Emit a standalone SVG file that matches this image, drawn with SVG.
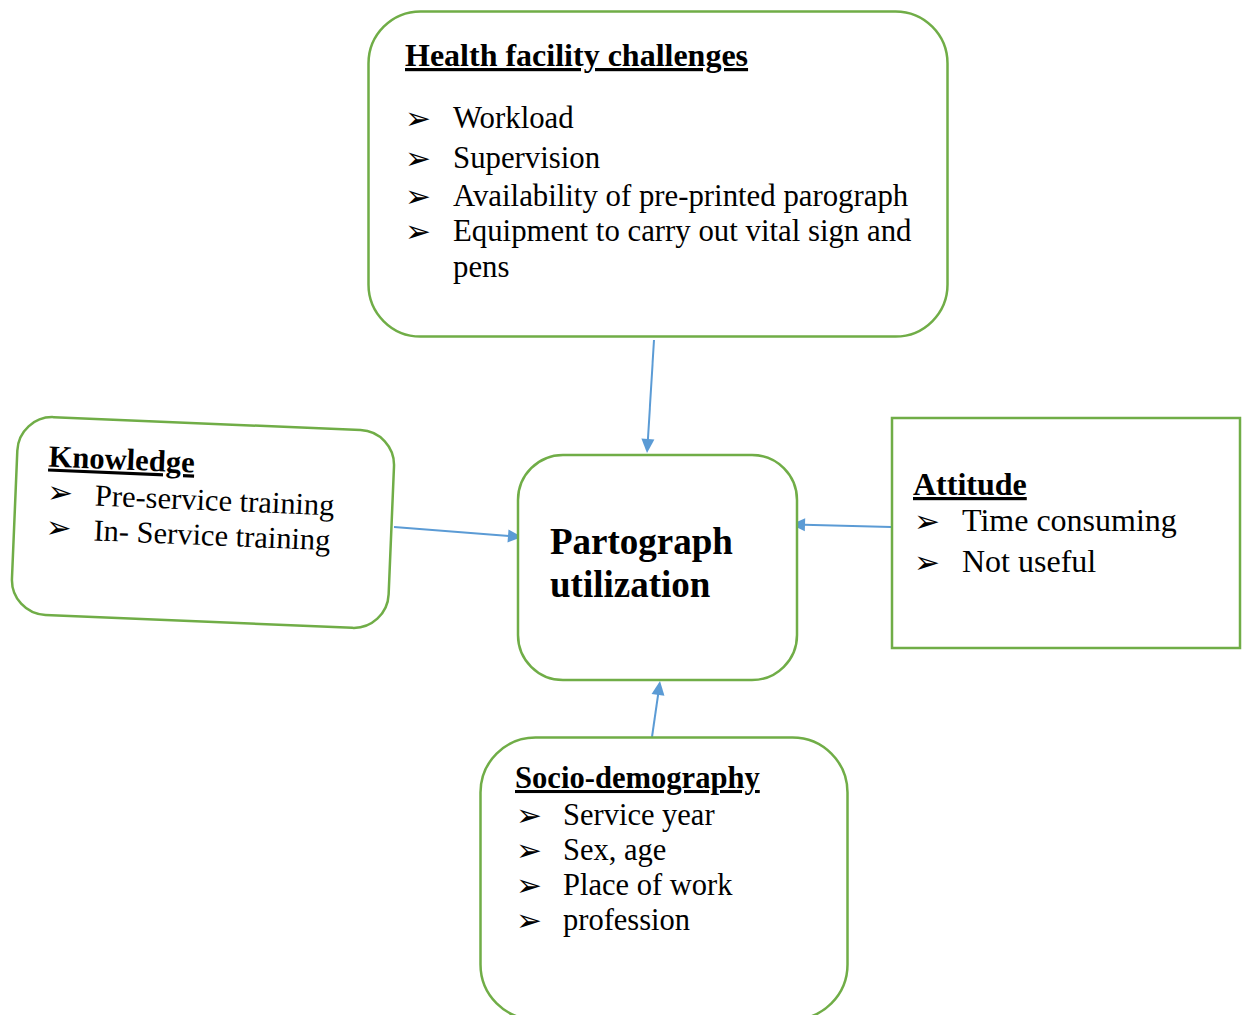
<svg xmlns="http://www.w3.org/2000/svg" width="1246" height="1015" viewBox="0 0 1246 1015">
<style>
.box{fill:#fff;stroke:#70AD47;stroke-width:2.5}
.t{font-family:"Liberation Serif","Times New Roman",serif;font-size:30.5px;fill:#000}
.h{font-family:"Liberation Serif","Times New Roman",serif;font-size:30.6px;font-weight:bold;fill:#000;text-decoration:underline;text-decoration-thickness:3px}
.b{font-family:"DejaVu Sans",sans-serif;font-size:31px;fill:#000}
.c{stroke:#5B9BD5;stroke-width:2;fill:none}
.ah{fill:#5B9BD5;stroke:none}
</style>
<rect width="1246" height="1015" fill="#fff"/>
<g id="connectors">
<line class="c" x1="654" y1="340" x2="647.9" y2="440"/>
<polygon class="ah" points="647,453 654.4,439.4 641.4,438.6"/>
<line class="c" x1="394" y1="527" x2="509" y2="536"/>
<polygon class="ah" points="522,537 507.5,542.4 508.5,529.4"/>
<line class="c" x1="891" y1="527" x2="804" y2="524.8"/>
<polygon class="ah" points="791,524.5 805.2,518.35 804.8,531.35"/>
<line class="c" x1="652" y1="737" x2="658.2" y2="694"/>
<polygon class="ah" points="660,681 664.45,695.78 651.59,693.94"/>
</g>
<g id="health">
<rect class="box" x="368.5" y="11.5" width="579" height="325" rx="52"/>
<text class="h" style="font-size:32px" x="405" y="66">Health facility challenges</text>
<text class="b" x="405" y="129">➢</text>
<text class="t" style="font-size:30.8px" x="453" y="128">Workload</text>
<text class="b" x="405" y="169">➢</text>
<text class="t" style="font-size:30.8px" x="453" y="168">Supervision</text>
<text class="b" x="405" y="207">➢</text>
<text class="t" style="font-size:30.8px" x="453" y="206">Availability of pre-printed parograph</text>
<text class="b" x="405" y="242">➢</text>
<text class="t" style="font-size:30.8px" x="453" y="241">Equipment to carry out vital sign and</text>
<text class="t" style="font-size:30.8px" x="453" y="277">pens</text>
</g>
<g id="knowledge" transform="rotate(2.4 203 522)">
<rect class="box" x="14.5" y="423.5" width="377" height="198" rx="35"/>
<text class="h" x="46" y="473">Knowledge</text>
<text class="b" x="46" y="509">➢</text>
<text class="t" x="94" y="510">Pre-service training</text>
<text class="b" x="46" y="544">➢</text>
<text class="t" x="94" y="545">In- Service training</text>
</g>
<g id="partograph">
<rect class="box" x="518" y="455" width="279" height="225" rx="45"/>
<text class="t" style="font-weight:bold;font-size:37px" x="550" y="554">Partograph</text>
<text class="t" style="font-weight:bold;font-size:37px" x="550" y="597">utilization</text>
</g>
<g id="attitude">
<rect class="box" x="892" y="418" width="348" height="230"/>
<text class="h" style="font-size:32px" x="913" y="495">Attitude</text>
<text class="b" x="914" y="532">➢</text>
<text class="t" style="font-size:32px" x="962" y="531">Time consuming</text>
<text class="b" x="914" y="573">➢</text>
<text class="t" style="font-size:32px" x="962" y="572">Not useful</text>
</g>
<g id="socio">
<rect class="box" x="480.5" y="737.5" width="367" height="282" rx="55"/>
<text class="h" x="515" y="788">Socio-demography</text>
<text class="b" x="516" y="826">➢</text>
<text class="t" x="563" y="825">Service year</text>
<text class="b" x="516" y="861">➢</text>
<text class="t" x="563" y="860">Sex, age</text>
<text class="b" x="516" y="896">➢</text>
<text class="t" x="563" y="895">Place of work</text>
<text class="b" x="516" y="931">➢</text>
<text class="t" x="563" y="930">profession</text>
</g>
</svg>
